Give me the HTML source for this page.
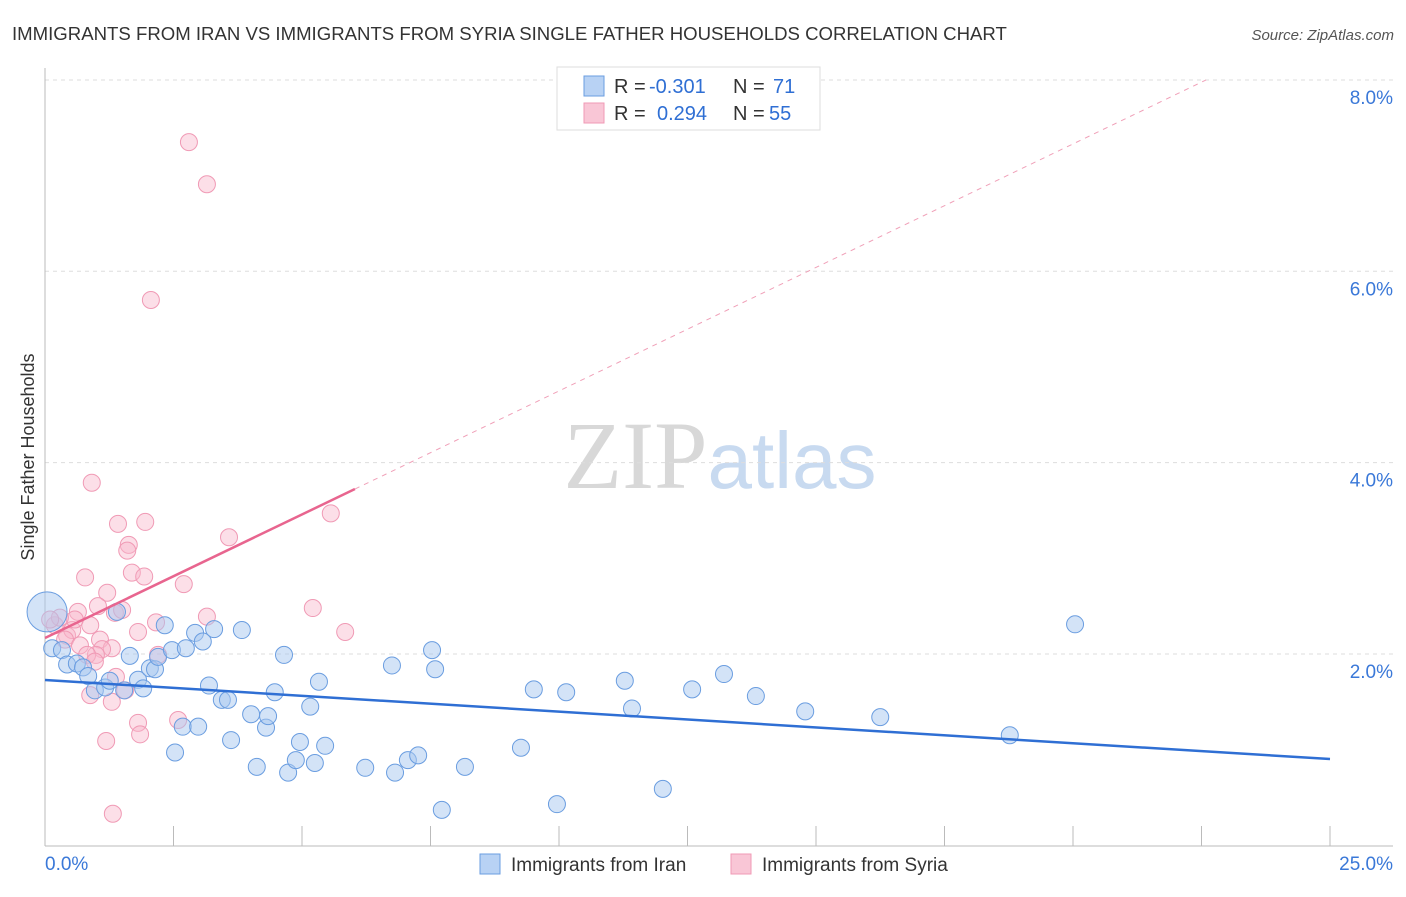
<!DOCTYPE html>
<html><head><meta charset="utf-8"><style>
body{margin:0;background:#fff;font-family:"Liberation Sans",sans-serif;}
svg text{font-family:"Liberation Sans",sans-serif;}
</style></head><body>
<svg id="chart" width="1406" height="892" xmlns="http://www.w3.org/2000/svg">
<text x="12" y="40" font-size="18.6" fill="#333">IMMIGRANTS FROM IRAN VS IMMIGRANTS FROM SYRIA SINGLE FATHER HOUSEHOLDS CORRELATION CHART</text>
<text x="1394" y="40" font-size="15" fill="#555" text-anchor="end" font-style="italic">Source: ZipAtlas.com</text>
<text x="720" y="488" font-size="96" text-anchor="middle"><tspan fill="#d8d8d8" font-family="Liberation Serif">ZIP</tspan><tspan fill="#c8daf0" font-size="80">atlas</tspan></text>
<text transform="translate(34,457) rotate(-90)" font-size="18" fill="#333" text-anchor="middle">Single Father Households</text>
<g id="grid"></g><g id="axes"></g><g id="marks"></g><g id="lines"></g>
<g>
<rect x="557" y="67" width="263" height="63" fill="#fff" stroke="#ddd"/>
<rect x="584" y="76" width="20" height="20" fill="#b8d2f4" stroke="#6a9de0"/>
<rect x="584" y="103" width="20" height="20" fill="#f9c6d6" stroke="#f09ab5"/>
<text x="614" y="93" font-size="20" fill="#333">R =</text>
<text x="649" y="93" font-size="20" fill="#2f6fd4">-0.301</text>
<text x="733" y="93" font-size="20" fill="#333">N =</text>
<text x="773" y="93" font-size="20" fill="#2f6fd4">71</text>
<text x="614" y="120" font-size="20" fill="#333">R =</text>
<text x="657" y="120" font-size="20" fill="#2f6fd4">0.294</text>
<text x="733" y="120" font-size="20" fill="#333">N =</text>
<text x="769" y="120" font-size="20" fill="#2f6fd4">55</text>
</g>
<g>
<rect x="480" y="854" width="20" height="20" fill="#b8d2f4" stroke="#6a9de0"/>
<text x="511" y="871" font-size="19" fill="#333">Immigrants from Iran</text>
<rect x="731" y="854" width="20" height="20" fill="#f9c6d6" stroke="#f09ab5"/>
<text x="762" y="871" font-size="19" fill="#333">Immigrants from Syria</text>
</g>
</svg>
<script>
const iranX=[0.04,0.14,0.33,0.43,0.62,0.74,0.84,0.97,1.17,1.26,1.40,1.54,1.65,1.81,1.91,2.04,2.14,2.20,2.33,2.47,2.53,2.68,2.74,2.92,2.98,3.07,3.19,3.29,3.44,3.56,3.62,3.83,4.01,4.12,4.30,4.34,4.47,4.65,4.73,4.88,4.96,5.16,5.25,5.33,5.45,6.23,6.75,6.81,7.06,7.26,7.53,7.59,7.72,8.17,9.26,9.51,9.96,10.14,11.28,11.42,12.02,12.59,13.21,13.83,14.79,16.25,18.77,20.04];
const iranY=[2.44,2.06,2.04,1.89,1.90,1.86,1.77,1.62,1.65,1.72,2.44,1.62,1.98,1.73,1.64,1.85,1.84,1.97,2.30,2.04,0.97,1.24,2.06,2.22,1.24,2.13,1.67,2.26,1.52,1.52,1.10,2.25,1.37,0.82,1.23,1.35,1.60,1.99,0.76,0.89,1.08,1.45,0.86,1.71,1.04,0.81,1.88,0.76,0.89,0.94,2.04,1.84,0.37,0.82,1.02,1.63,0.43,1.60,1.72,1.43,0.59,1.63,1.79,1.56,1.40,1.34,1.15,2.31];
const syriaX=[2.80,3.15,2.06,0.91,1.42,1.95,1.63,1.60,3.58,5.56,0.78,1.69,1.93,1.21,1.03,1.36,1.50,0.64,2.70,2.16,3.15,5.21,5.84,1.81,2.20,0.88,1.07,1.30,1.11,0.43,0.53,0.58,0.19,0.29,0.10,0.39,0.68,0.99,0.82,0.88,1.38,1.30,2.59,1.81,1.85,1.19,1.32,1.56,0.97];
const syriaY=[7.35,6.91,5.70,3.79,3.36,3.38,3.14,3.08,3.22,3.47,2.80,2.85,2.81,2.64,2.50,2.43,2.46,2.44,2.73,2.33,2.39,2.48,2.23,2.23,1.99,2.30,2.15,2.06,2.05,2.19,2.25,2.36,2.30,2.38,2.36,2.15,2.09,1.99,1.99,1.57,1.76,1.50,1.31,1.28,1.16,1.09,0.33,1.62,1.92];
const iranTrend=[1.728,0.902];
const syriaTrend=[2.167,3.724];
const yTicks=[2,4,6,8];
const yTickLabels=["2.0%","4.0%","6.0%","8.0%"];
const xTickLabels=["0.0%","25.0%"];

const NS="http://www.w3.org/2000/svg";
const sx=v=>45+v*(1285/25);
const sy=v=>845.3-v*95.67;
function mk(tag,attrs,parent){const e=document.createElementNS(NS,tag);for(const k in attrs)e.setAttribute(k,attrs[k]);document.getElementById(parent).appendChild(e);return e;}

yTicks.forEach((t,i)=>{
  const g=mk('line',{x1:45,x2:1393,y1:sy(t),y2:sy(t),stroke:'#ddd','stroke-dasharray':'4,4'},'grid');
  
  
  const l=mk('text',{x:1393,y:sy(t)+24,'font-size':19,fill:'#3a78d8','text-anchor':'end'},'axes');
  l.textContent=yTickLabels[i];
  
  
});
const ax=mk('line',{x1:45,x2:45,y1:68,y2:846,stroke:'#bbb'},'axes');


const bx=mk('line',{x1:45,x2:1393,y1:846,y2:846,stroke:'#bbb'},'axes');


for(let i=0;i<=10;i++){
  const t=mk('line',{x1:sx(i*2.5),x2:sx(i*2.5),y1:826,y2:846,stroke:'#bbb'},'axes');
  
  
}
[[0,'start',45],[25,'end',1393]].forEach((p,i)=>{
  const l=mk('text',{x:p[2],y:870,'font-size':19,fill:'#3a78d8','text-anchor':p[1]},'axes');
  l.textContent=xTickLabels[i];
  
  
});

syriaX.forEach((x,i)=>{
  const c=mk('circle',{cx:sx(x),cy:sy(syriaY[i]),r:8.5,fill:'rgba(248,184,204,0.45)',stroke:'#f09ab5','stroke-width':1},'marks');
  
  
});
iranX.forEach((x,i)=>{
  const c=mk('circle',{cx:sx(x),cy:sy(iranY[i]),r:i===0?20:8.5,fill:'rgba(168,200,240,0.5)',stroke:'#6a9de0','stroke-width':1},'marks');
  
  
});

const bl=mk('line',{x1:sx(0),y1:sy(iranTrend[0]),x2:sx(25),y2:sy(iranTrend[1]),stroke:'#2f6fd4','stroke-width':2.5},'lines');


const slope=(syriaTrend[1]-syriaTrend[0])/6.03;
const pl=mk('line',{x1:sx(0),y1:sy(syriaTrend[0]),x2:sx(6.03),y2:sy(syriaTrend[1]),stroke:'#e8658f','stroke-width':2.5},'lines');


const xe=(8.0-syriaTrend[0])/slope;
const pd=mk('line',{x1:sx(6.03),y1:sy(syriaTrend[1]),x2:sx(xe),y2:sy(8.0),stroke:'#f0a0b8','stroke-width':1,'stroke-dasharray':'5,5'},'lines');


</script>
</body></html>
